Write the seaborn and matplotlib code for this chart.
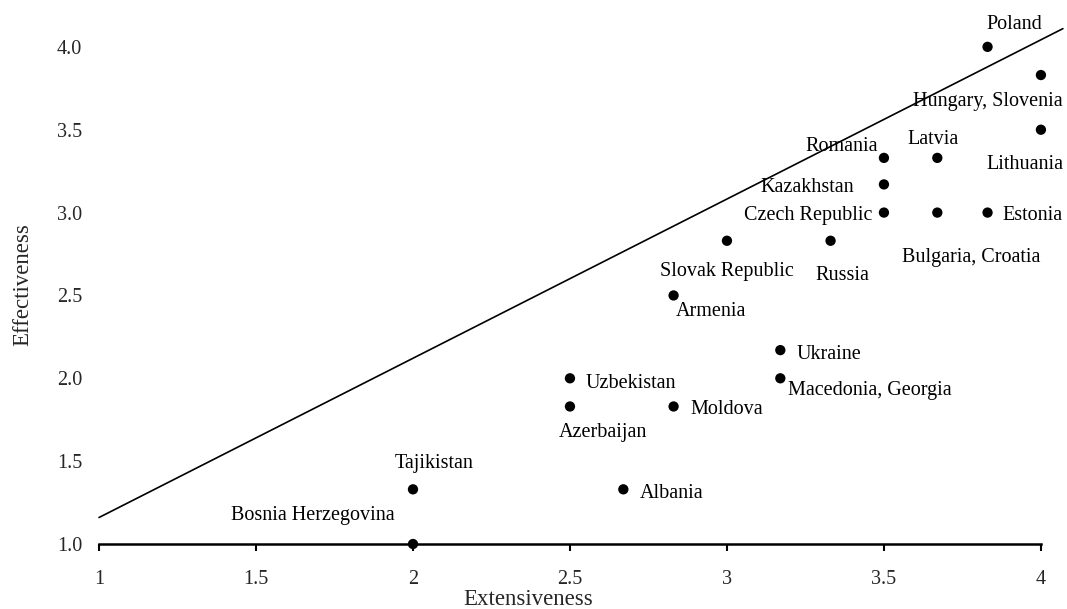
import matplotlib
matplotlib.use("Agg")
import matplotlib.pyplot as plt
import seaborn as sns
import pandas as pd

# values
countries = ["Poland", "Hungary, Slovenia", "Lithuania", "Romania", "Latvia",
             "Kazakhstan", "Czech Republic", "Bulgaria, Croatia", "Estonia",
             "Slovak Republic", "Russia", "Armenia", "Ukraine", "Macedonia, Georgia",
             "Uzbekistan", "Moldova", "Azerbaijan", "Tajikistan", "Albania",
             "Bosnia Herzegovina"]
extensiveness = [3.83, 4.0, 4.0, 3.5, 3.67,
                 3.5, 3.5, 3.67, 3.83,
                 3.0, 3.33, 2.83, 3.17, 3.17,
                 2.5, 2.83, 2.5, 2.0, 2.67,
                 2.0]
effectiveness = [4.0, 3.83, 3.5, 3.33, 3.33,
                 3.17, 3.0, 3.0, 3.0,
                 2.83, 2.83, 2.5, 2.17, 2.0,
                 2.0, 1.83, 1.83, 1.33, 1.33,
                 1.0]
line_x = [1.0, 4.07]
line_y = [1.16, 4.11]
x_ticks = [1, 1.5, 2, 2.5, 3, 3.5, 4]
x_tick_labels = ["1", "1.5", "2", "2.5", "3", "3.5", "4"]
y_ticks = [1.0, 1.5, 2.0, 2.5, 3.0, 3.5, 4.0]
y_tick_labels = ["1.0", "1.5", "2.0", "2.5", "3.0", "3.5", "4.0"]

# label placement: (dx px, dy px, ha)
label_pos = {
    "Poland": (27, 25, "center"),
    "Hungary, Slovenia": (-53, -23, "center"),
    "Lithuania": (-16, -32, "center"),
    "Romania": (-6, 14, "right"),
    "Latvia": (-4, 21, "center"),
    "Kazakhstan": (-30, 0, "right"),
    "Czech Republic": (-12, 0, "right"),
    "Bulgaria, Croatia": (34, -42, "center"),
    "Estonia": (15, 0, "left"),
    "Slovak Republic": (0, -28, "center"),
    "Russia": (12, -32, "center"),
    "Armenia": (2, -13, "left"),
    "Ukraine": (16, -1, "left"),
    "Macedonia, Georgia": (8, -9, "left"),
    "Uzbekistan": (16, -2, "left"),
    "Moldova": (17, 0, "left"),
    "Azerbaijan": (33, -23, "center"),
    "Tajikistan": (21, 29, "center"),
    "Albania": (16, -1, "left"),
    "Bosnia Herzegovina": (-18, 32, "right"),
}

df = pd.DataFrame({"country": countries, "Extensiveness": extensiveness,
                   "Effectiveness": effectiveness})

sns.set_style("white")
plt.rcParams["font.family"] = ["Liberation Serif", "DejaVu Serif"]

fig = plt.figure(figsize=(10.67, 6.09), dpi=100)
ax = fig.add_axes([0.0928, 0.1067, 0.9063, 0.849])

ax.plot(line_x, line_y, color="black", linewidth=1.2, clip_on=False)
sns.scatterplot(data=df, x="Extensiveness", y="Effectiveness", ax=ax,
                color="black", s=55, edgecolor="none", clip_on=False, zorder=3)

for name, xv, yv in zip(countries, extensiveness, effectiveness):
    dx, dy, ha = label_pos[name]
    # va="center" sits a bit high for this font, nudge down
    ax.annotate(name, (xv, yv), xytext=(dx, dy - 3), textcoords="offset pixels",
                ha=ha, va="center", fontsize=14.5, color="black")

ax.set_xlim(1, 4.08)
ax.set_ylim(1, 4.12)
ax.set_xticks(x_ticks)
ax.set_xticklabels(x_tick_labels)
ax.set_yticks(y_ticks)
ax.set_yticklabels(y_tick_labels)
ax.tick_params(axis="x", direction="out", length=5, width=1.5, pad=14,
               labelsize=14.5, bottom=True, color="black")
ax.tick_params(axis="y", length=0, pad=12, labelsize=14.5)

for side in ["top", "right", "left"]:
    ax.spines[side].set_visible(False)
ax.spines["bottom"].set_linewidth(1.8)
ax.spines["bottom"].set_color("black")
ax.spines["bottom"].set_bounds(1, 4)

ax.set_xlabel("Extensiveness", fontsize=16.5)
ax.set_ylabel("Effectiveness", fontsize=16.5)
ax.xaxis.label.set_va("center")
ax.yaxis.label.set_va("center")
ax.xaxis.set_label_coords(0.4437, -0.108)
ax.yaxis.set_label_coords(-0.0786, 0.501)

fig.savefig("out.png", dpi=100)
